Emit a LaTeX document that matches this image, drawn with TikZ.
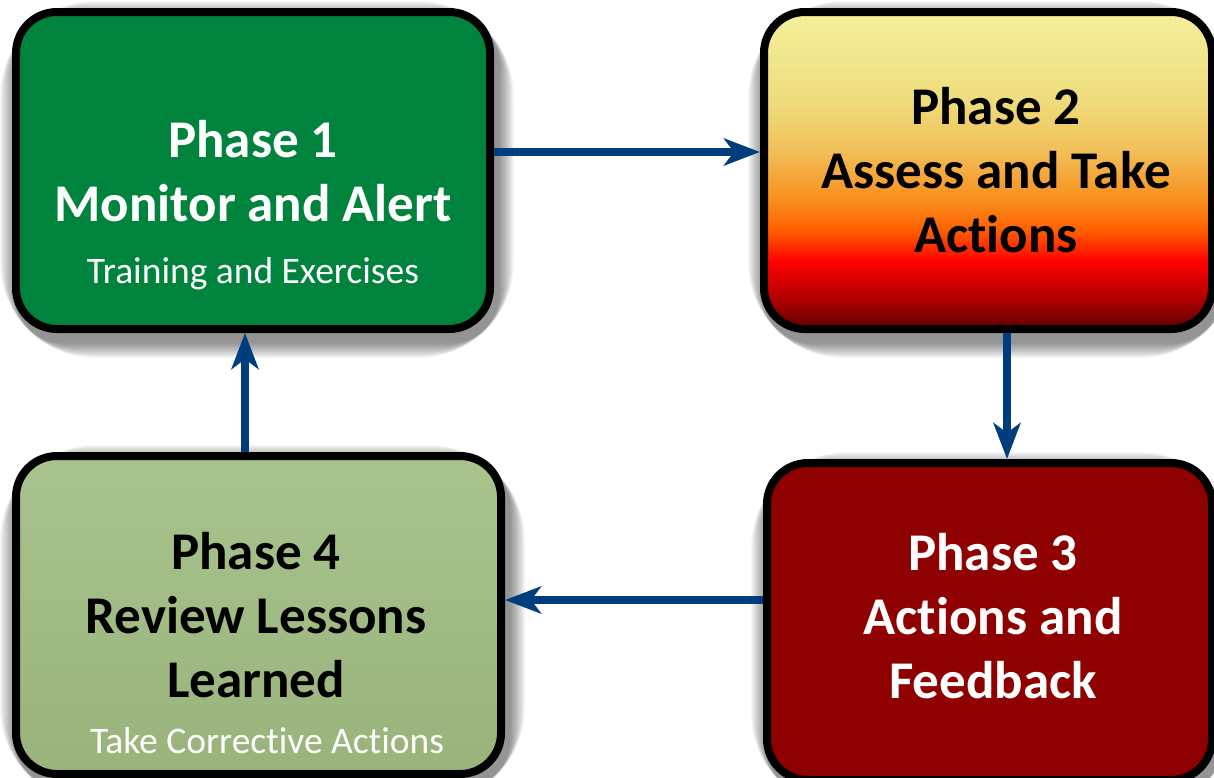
\documentclass[tikz,border=0pt]{standalone}
\usepackage{fontspec}
\setmainfont[Ligatures={NoCommon,NoRequired,NoContextual}]{Carlito}
\usetikzlibrary{arrows.meta, backgrounds}

\definecolor{phaseone}{RGB}{0,132,61}
\definecolor{phasethree}{RGB}{143,0,0}
\definecolor{sagetop}{RGB}{168,195,141}
\definecolor{sagebottom}{RGB}{153,179,123}
\definecolor{flowblue}{RGB}{0,61,125}

% warm ramp for phase 2, bottom (0bp) to top (100bp)
\definecolor{rampdark}{RGB}{92,0,0}
\definecolor{rampdeep}{RGB}{175,0,0}
\definecolor{ramphot}{RGB}{255,0,0}
\definecolor{ramporange}{RGB}{255,95,0}
\definecolor{rampamber}{RGB}{248,142,28}
\definecolor{ramplight}{RGB}{241,192,88}
\definecolor{rampsand}{RGB}{238,220,125}
\definecolor{ramppale}{RGB}{245,240,155}
\pgfdeclareverticalshading{phasetwo}{100bp}{
  color(0bp)=(rampdark); color(25bp)=(rampdark); color(29.6bp)=(rampdeep);
  color(35.6bp)=(ramphot); color(40.6bp)=(ramporange); color(45.3bp)=(rampamber);
  color(53.2bp)=(ramplight); color(61.1bp)=(rampsand); color(75bp)=(ramppale);
  color(100bp)=(ramppale)}

\begin{document}
\begin{tikzpicture}[
  x=1pt, y=-1pt,
  box/.style={draw=black, line width=8pt, rounded corners=41pt, inner sep=0pt},
  halo/.style={fill=black, opacity=0.03},
  head/.style={font=\fontsize{53}{64}\selectfont\bfseries, align=center,
    anchor=base, inner sep=0pt},
  note/.style={font=\fontsize{37.5}{44}\selectfont, text=white, anchor=base, inner sep=0pt},
  flow/.style={draw=flowblue, line width=8pt,
    -{Stealth[length=36pt, width=27pt, inset=10pt]}}
]
  \useasboundingbox (0,0) rectangle (1214,777);

  % the four phase boxes
  \node[box, fill=phaseone, minimum width=474pt, minimum height=317pt] (p1) at (253,170.5) {};
  \node[box, shade, shading=phasetwo, minimum width=448pt, minimum height=317pt] (p2) at (988,170.5) {};
  \node[box, fill=phasethree, minimum width=445pt, minimum height=317pt] (p3) at (989.5,621.5) {};
  \node[box, top color=sagetop, bottom color=sagebottom, minimum width=485pt, minimum height=318pt] (p4) at (258.5,615) {};

  % titles (anchored on the last line) and notes
  \node[head, text=white] (t1) at (253,221) {Phase 1\\Monitor and Alert};
  \node[note] (s1) at (253,283) {Training and Exercises};
  \node[head] (t2) at (996,252) {Phase 2\\Assess and Take\\Actions};
  \node[head, text=white] (t3) at (993,698) {Phase 3\\Actions and\\Feedback};
  \node[head] (t4) at (256,697) {Phase 4\\Review Lessons\\Learned};
  \node[note] (s4) at (267,753) {Take Corrective Actions};

  % the cycle
  \draw[flow] ([yshift=18.5pt]p1.east) -- ([yshift=18.5pt]p1.east -| p2.west);
  \draw[flow] ([xshift=19pt]p2.south) -- ([xshift=19pt]p2.south |- p3.north);
  \draw[flow] ([yshift=21.5pt]p3.west) -- ([yshift=21.5pt]p3.west -| p4.east);
  \draw[flow] ([xshift=-13.5pt]p4.north) -- ([xshift=-13.5pt]p4.north |- p1.south);

  % soft shadows: stacked faint rounded rectangles behind each box
  \begin{scope}[on background layer]
    \fill[white] (0,0) rectangle (1214,777);
    \foreach \b in {p1,p2,p3,p4}
      \foreach \k [evaluate=\k as \d using \k*3.2,
                   evaluate=\k as \r using 45+\k*3.2] in {1,...,16}
        \fill[halo, rounded corners=\r pt]
          ([shift={(4pt-\d pt,-9pt-\d pt)}]\b.south west) rectangle
          ([shift={(4pt+\d pt,-9pt+\d pt)}]\b.north east);
  \end{scope}
\end{tikzpicture}
\end{document}
